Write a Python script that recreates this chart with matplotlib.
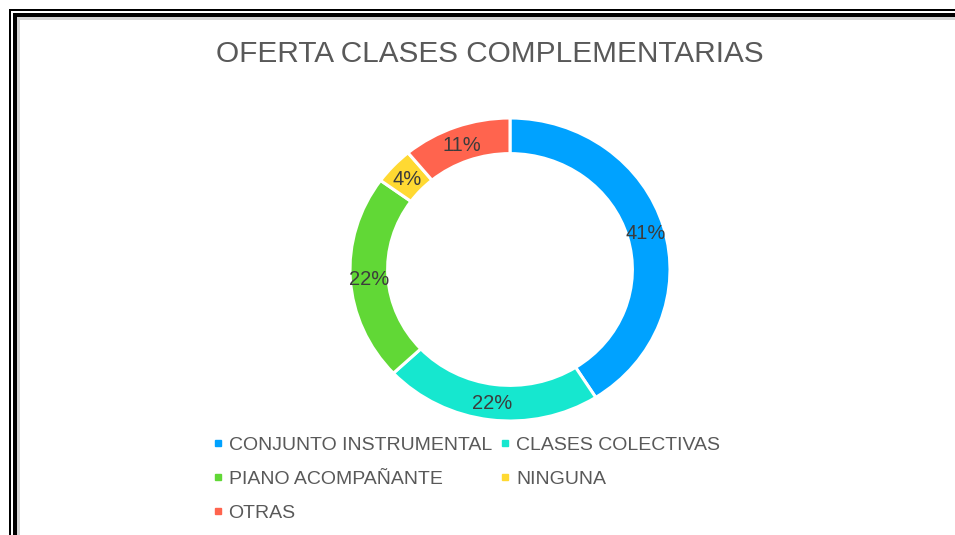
"""Donut chart: oferta de clases complementarias."""
import numpy as np
import matplotlib.pyplot as plt
from matplotlib.lines import Line2D
from matplotlib.patches import Rectangle

categories = ['CONJUNTO INSTRUMENTAL', 'CLASES COLECTIVAS', 'PIANO ACOMPAÑANTE',
              'NINGUNA', 'OTRAS']
shares = [41, 22, 22, 4, 11]
colors = ['#00A2FF', '#16E7CF', '#61D836', '#FFD932', '#FF644E']

plt.rcParams['font.family'] = ['Liberation Sans', 'DejaVu Sans']

W, H = 955, 535
fig = plt.figure(figsize=(W / 100, H / 100), dpi=100)
fig.patch.set_facecolor('white')

# ── frame (double black line + grey shadow) ─────────────────────────────────
def px_rect(x0, y0, x1, y1, color, z):
    fig.patches.append(Rectangle((x0 / W, 1 - y1 / H), (x1 - x0) / W, (y1 - y0) / H,
                                 transform=fig.transFigure, color=color, lw=0,
                                 zorder=z))

px_rect(9, 9, W + 5, H + 5, 'black', -5)
px_rect(11, 11, W + 5, H + 5, 'white', -4)
px_rect(12.7, 12.7, W + 5, H + 5, 'black', -3)
px_rect(16.7, 16.7, W + 5, H + 5, '#d4d4d4', -2)
px_rect(20, 20, W + 5, H + 5, 'white', -1)

# ── donut ────────────────────────────────────────────────────────────────────
ring = 0.235
ax = fig.add_axes([350 / W, 1 - 421 / H, 320 / W, 303 / H])
wedges, texts = ax.pie(shares, colors=colors, startangle=90, counterclock=False,
                       radius=1.0,
                       wedgeprops=dict(width=ring, edgecolor='white', linewidth=2.2))
for w, pct in zip(wedges, shares):
    ang = np.deg2rad((w.theta1 + w.theta2) / 2)
    r = 1 - ring / 2
    ax.text(r * np.cos(ang), r * np.sin(ang) - 0.01, f'{pct}%', ha='center',
            va='center', fontsize=14.5, color='#3c3c3c')
ax.set_aspect('auto')
ax.set_xlim(-1, 1)
ax.set_ylim(-1, 1)
ax.axis('off')

fig.text(490 / W, 1 - 54 / H, 'OFERTA CLASES COMPLEMENTARIAS', ha='center',
         va='center', fontsize=21.4, color='#595959')

# legend filled row by row in the reference: reorder for column-wise filling
order = [0, 2, 4, 1, 3]
handles = [Line2D([], [], ls='', marker='s', ms=5, color=colors[i]) for i in order]
labels = [categories[i] for i in order]
leg = fig.legend(handles, labels, ncol=2, loc='upper left',
                 bbox_to_anchor=(213 / W, 1 - 436 / H), frameon=False,
                 fontsize=14, labelcolor='#595959', handlelength=0.5,
                 handletextpad=0.3, columnspacing=0.45, labelspacing=0.86,
                 borderaxespad=0, borderpad=0)

fig.savefig('out.png', dpi=100)
